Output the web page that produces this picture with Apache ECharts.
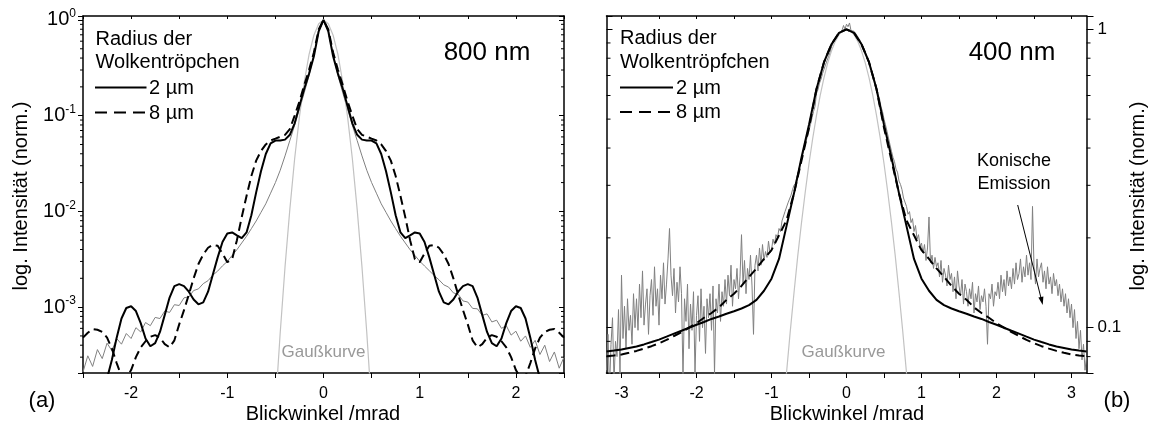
<!DOCTYPE html>
<html><head><meta charset="utf-8">
<script src="https://cdn.jsdelivr.net/npm/echarts@6/dist/echarts.min.js"></script>
<style>html,body{margin:0;padding:0;background:#fff}#c{width:1156px;height:430px}</style>
</head><body><div id="c"></div>
<script>
const FONT = '"Liberation Sans", Arial, Helvetica, sans-serif';

// ---------- panel (a): 800 nm ----------
const angleA = Array.from({length: 101}, (_, i) => +(-2.5 + i * 0.05).toFixed(2));
const measuredA = [0.00021,0.00031,0.00024,0.00036,0.00029,0.00042,0.00035,0.00047,0.00041,0.00053,0.00047,0.00061,0.00055,0.00069,0.00064,0.00078,0.00076,0.00091,0.00088,0.00106,0.00104,0.00125,0.00128,0.00149,0.00155,0.00176,
 0.00189,0.00216,0.00238,0.0027,0.003,0.00347,0.00398,0.00468,0.0055,0.0066,0.00794,0.00977,0.012,0.0155,0.02,0.0269,0.038,0.055,0.0794,0.117,0.174,0.263,0.437,0.794,
 1,
 0.794,0.437,0.263,0.174,0.117,0.0794,0.055,0.038,0.0269,0.02,0.0155,0.012,0.00977,0.00794,0.0066,0.0055,0.00468,0.00398,0.00347,0.00302,0.00269,0.0024,0.00214,0.00193,
 0.00171,0.00162,0.00141,0.00136,0.00116,0.00113,0.00097,0.00096,0.00082,0.00085,0.0007,0.00073,0.0006,0.00064,0.00051,0.00056,0.00044,0.0005,0.00038,0.00045,0.00032,0.0004,0.00027,0.00034,0.00023,0.0003];
const drop2umA = [0.00002,0.00003,0.00004,0.00006,0.0001,0.00018,0.00028,0.00048,0.00076,0.00098,0.00102,0.00091,0.00068,0.00047,0.00039,0.00042,0.00055,0.00083,0.00126,0.00166,0.00174,0.00166,0.00145,0.0012,0.00107,0.00112,0.00145,0.00219,0.00331,0.00479,0.00589,0.00603,0.00562,0.00525,0.00603,0.00912,0.0158,0.0263,0.0398,0.0513,0.055,0.055,0.0562,0.0631,0.0832,0.126,0.191,0.275,0.417,0.759,
 1,
 0.759,0.417,0.275,0.191,0.126,0.0832,0.0631,0.0562,0.055,0.055,0.0513,0.0398,0.0263,0.0158,0.00912,0.00603,0.00525,0.00562,0.00603,0.00589,0.00479,0.00331,0.00219,0.00145,0.00112,0.00107,0.0012,0.00145,0.00166,0.00174,0.00166,0.00126,0.00083,0.00055,0.00042,0.00039,0.00047,0.00068,0.00091,0.00102,0.00098,0.00076,0.00048,0.00028,0.00018,0.0001,0.00006,0.00004,0.00003,0.00002];
const drop8umA = [0.00048,0.00054,0.00059,0.00058,0.00055,0.00048,0.00037,0.00026,0.00019,0.00018,0.00022,0.0003,0.00038,0.00044,0.00049,0.00051,0.00048,0.00041,0.00038,0.00045,0.00066,0.00093,0.00135,0.002,0.00282,0.00355,0.00417,0.00447,0.00437,0.00363,0.00295,0.00316,0.00501,0.00871,0.0145,0.0234,0.0339,0.0427,0.0501,0.055,0.0575,0.0603,0.0631,0.0724,0.1,0.141,0.209,0.302,0.457,0.794,
 1,
 0.794,0.457,0.302,0.209,0.141,0.1,0.0724,0.0631,0.0603,0.0575,0.055,0.0501,0.0427,0.0339,0.0234,0.0145,0.00871,0.00501,0.00316,0.00295,0.00363,0.00437,0.00447,0.00417,0.00355,0.00282,0.002,0.00135,0.00093,0.00066,0.00045,0.00038,0.00041,0.00048,0.00051,0.00049,0.00044,0.00038,0.0003,0.00022,0.00018,0.00019,0.00026,0.00037,0.00048,0.00055,0.00058,0.00059,0.00054,0.00048];
const gaussAngleA = [-0.55,-0.5,-0.45,-0.4,-0.35,-0.3,-0.25,-0.2,-0.15,-0.1,-0.05,0,0.05,0.1,0.15,0.2,0.25,0.3,0.35,0.4,0.45,0.5,0.55];
const gaussA = [0.0000126,0.000091,0.00054,0.00263,0.0105,0.0355,0.0977,0.224,0.437,0.692,0.912,1,0.912,0.692,0.437,0.224,0.0977,0.0355,0.0105,0.00263,0.00054,0.000091,0.0000126];
const yMinorA = [3e-4,4e-4,5e-4,6e-4,7e-4,8e-4,9e-4,2e-3,3e-3,4e-3,5e-3,6e-3,7e-3,8e-3,9e-3,2e-2,3e-2,4e-2,5e-2,6e-2,7e-2,8e-2,9e-2,0.2,0.3,0.4,0.5,0.6,0.7,0.8,0.9];

// ---------- panel (b): 400 nm ----------
const angleB = Array.from({length: 65}, (_, i) => +(-3.2 + i * 0.1).toFixed(1));
const drop2umB = [0.0832,0.0838,0.0845,0.0855,0.0865,0.0879,0.0895,0.0912,0.0933,0.0955,0.0977,0.1,0.1023,0.1045,0.107,0.109,0.1114,0.1135,0.116,0.119,0.124,0.133,0.146,0.17,0.219,0.282,0.372,0.479,0.631,0.776,0.891,0.973,
 1,
 0.973,0.891,0.776,0.631,0.479,0.372,0.282,0.219,0.17,0.146,0.133,0.124,0.119,0.116,0.1135,0.1114,0.109,0.107,0.1045,0.1023,0.1,0.0977,0.0955,0.0933,0.0912,0.0895,0.0879,0.0865,0.0855,0.0845,0.0838,0.0832];
const drop8umB = [0.0803,0.0807,0.0813,0.0824,0.0836,0.0851,0.0867,0.0887,0.091,0.0938,0.0966,0.1,0.1035,0.108,0.112,0.117,0.124,0.13,0.138,0.148,0.158,0.17,0.182,0.204,0.229,0.282,0.363,0.468,0.631,0.776,0.891,0.973,
 1,
 0.973,0.891,0.776,0.631,0.468,0.363,0.282,0.229,0.204,0.182,0.17,0.158,0.148,0.138,0.13,0.124,0.117,0.112,0.108,0.1035,0.1,0.0966,0.0938,0.091,0.0887,0.0867,0.0851,0.0836,0.0824,0.0813,0.0807,0.0803];
const measuredAngleB = Array.from({length: 321}, (_, i) => +(-3.2 + i * 0.02).toFixed(2));
const measuredB = [
 0.072,0.095,0.062,0.088,0.108,0.066,0.09,0.08,0.115,0.07,
 0.15,0.092,0.118,0.085,0.125,0.098,0.11,0.088,0.13,0.1,
 0.125,0.098,0.14,0.108,0.155,0.102,0.12,0.135,0.095,0.128,
 0.145,0.11,0.16,0.118,0.135,0.102,0.15,0.125,0.165,0.12,
 0.14,0.17,0.215,0.15,0.128,0.158,0.112,0.142,0.122,0.16,
 0.13,0.068,0.125,0.105,0.14,0.085,0.12,0.098,0.132,0.07,
 0.11,0.128,0.09,0.135,0.1,0.118,0.082,0.125,0.108,0.13,
 0.098,0.138,0.07,0.125,0.112,0.14,0.105,0.132,0.118,0.145,
 0.12,0.15,0.128,0.162,0.118,0.145,0.135,0.158,0.125,0.148,
 0.205,0.14,0.168,0.13,0.158,0.145,0.175,0.138,0.095,0.162,
 0.175,0.155,0.185,0.162,0.19,0.168,0.18,0.172,0.195,0.178,
 0.182,0.198,0.19,0.205,0.2,0.215,0.21,0.228,0.225,0.245,
 0.248,0.262,0.258,0.278,0.29,0.3,0.305,0.322,0.335,0.352,
 0.37,0.385,0.402,0.42,0.44,0.458,0.48,0.505,0.53,0.552,
 0.61,0.628,0.66,0.68,0.71,0.735,0.76,0.785,0.81,0.835,
 0.875,0.895,0.915,0.935,0.95,0.965,0.98,0.99,1.03,1.0,
 1.04,
 1.02,1.05,0.99,1.0,0.985,0.97,0.955,0.935,0.92,0.895,
 0.875,0.85,0.825,0.8,0.775,0.75,0.72,0.695,0.665,0.635,
 0.605,0.585,0.55,0.53,0.5,0.478,0.455,0.432,0.41,0.39,
 0.372,0.36,0.34,0.332,0.31,0.302,0.29,0.272,0.268,0.255,
 0.24,0.245,0.225,0.232,0.21,0.22,0.198,0.205,0.188,0.192,
 0.178,0.19,0.168,0.185,0.235,0.165,0.175,0.158,0.172,0.16,
 0.165,0.148,0.168,0.142,0.158,0.15,0.138,0.162,0.145,0.152,
 0.132,0.148,0.125,0.155,0.138,0.128,0.145,0.12,0.14,0.132,
 0.118,0.135,0.125,0.142,0.112,0.13,0.122,0.138,0.115,0.128,
 0.122,0.135,0.118,0.088,0.13,0.125,0.14,0.118,0.132,0.128,
 0.142,0.125,0.15,0.132,0.145,0.128,0.155,0.138,0.148,0.135,
 0.158,0.14,0.165,0.145,0.152,0.17,0.142,0.16,0.148,0.175,
 0.15,0.165,0.145,0.255,0.16,0.14,0.17,0.148,0.158,0.165,
 0.142,0.155,0.135,0.16,0.14,0.148,0.13,0.152,0.138,0.145,
 0.128,0.14,0.122,0.135,0.118,0.13,0.112,0.125,0.108,0.12,
 0.1,0.115,0.092,0.105,0.085,0.098,0.078,0.088,0.072,0.08];
const gaussAngleB = [-0.9,-0.85,-0.8,-0.75,-0.7,-0.65,-0.6,-0.55,-0.5,-0.45,-0.4,-0.35,-0.3,-0.25,-0.2,-0.15,-0.1,-0.05,0,0.05,0.1,0.15,0.2,0.25,0.3,0.35,0.4,0.45,0.5,0.55,0.6,0.65,0.7,0.75,0.8,0.85,0.9];
const gaussB = [0.0348,0.0501,0.0705,0.0972,0.131,0.174,0.225,0.285,0.355,0.432,0.515,0.602,0.689,0.772,0.847,0.911,0.959,0.99,1,0.99,0.959,0.911,0.847,0.772,0.689,0.602,0.515,0.432,0.355,0.285,0.225,0.174,0.131,0.0972,0.0705,0.0501,0.0348];
const xTickValuesB = [-3,-2.5,-2,-1.5,-1,-0.5,0,0.5,1,1.5,2,2.5,3];
const xLabelValuesB = [-3,-2,-1,0,1,2,3];
const yMinorB = [0.08,0.09,0.2,0.3,0.4,0.5,0.6,0.7,0.8,0.9];

// ---------- layout ----------
const XA = [-2.5, 2.5], YA = [2.05e-4, 1.1];
const XB = [-3.2, 3.2], YB = [0.0705, 1.108];
const pairs = (xs, ys) => xs.map((x, i) => [x, ys[i]]);
const lineAx = {show: true, onZero: false, lineStyle: {color: '#000', width: 1.5}};

function minorTickSeries(xi, yi, ticks, xr, leftLen, rightLen) {
  return {
    type: 'custom', xAxisIndex: xi, yAxisIndex: yi, silent: true, clip: false, z: 10,
    data: ticks.map(v => [xr[0], v]),
    renderItem: (params, api) => {
      const v = api.value(1);
      const pl = api.coord([xr[0], v]);
      const pr = api.coord([xr[1], v]);
      const st = {stroke: '#000', lineWidth: 1};
      return {type: 'group', children: [
        {type: 'line', shape: {x1: pl[0] + leftLen, y1: pl[1], x2: pl[0], y2: pl[1]}, style: st},
        {type: 'line', shape: {x1: pr[0], y1: pr[1], x2: pr[0] + rightLen, y2: pr[1]}, style: st}
      ]};
    }
  };
}

function txt(x, y, text, size, opts) {
  opts = opts || {};
  return Object.assign({
    type: 'text', x: x, y: y, z: 20, silent: true,
    style: {text: text, font: size + 'px ' + FONT, fill: opts.fill || '#000',
      align: opts.align || 'center', verticalAlign: 'middle',
      textAlign: opts.align || 'center', textVerticalAlign: 'middle'}
  }, opts.rotation ? {rotation: opts.rotation} : {});
}

const chart = echarts.init(document.getElementById('c'));
chart.setOption({
  animation: false,
  backgroundColor: '#fff',
  grid: [
    {left: 83, top: 16, width: 481, height: 357},
    {left: 606.5, top: 16, width: 480, height: 357}
  ],
  xAxis: [
    {gridIndex: 0, type: 'value', position: 'bottom', min: XA[0], max: XA[1], interval: 0.5,
     axisLine: lineAx, splitLine: {show: false},
     axisTick: {inside: false, length: 5, lineStyle: {color: '#000', width: 1}},
     axisLabel: {margin: 13, fontSize: 16, color: '#000', fontFamily: FONT,
       formatter: v => Number.isInteger(v) ? String(v) : ''}},
    {gridIndex: 0, type: 'value', position: 'top', min: XA[0], max: XA[1], interval: 0.5,
     axisLine: lineAx, splitLine: {show: false}, axisLabel: {show: false},
     axisTick: {inside: true, length: 3, lineStyle: {color: '#000', width: 1}}},
    {gridIndex: 1, type: 'value', position: 'bottom', min: XB[0], max: XB[1],
     axisLine: lineAx, splitLine: {show: false},
     axisTick: {inside: false, length: 5, customValues: xTickValuesB, lineStyle: {color: '#000', width: 1}},
     axisLabel: {margin: 13, fontSize: 16, color: '#000', fontFamily: FONT, customValues: xLabelValuesB}},
    {gridIndex: 1, type: 'value', position: 'top', min: XB[0], max: XB[1],
     axisLine: lineAx, splitLine: {show: false}, axisLabel: {show: false},
     axisTick: {inside: true, length: 3, customValues: xTickValuesB, lineStyle: {color: '#000', width: 1}}}
  ],
  yAxis: [
    {gridIndex: 0, type: 'log', logBase: 10, position: 'left', min: YA[0], max: YA[1],
     axisLine: lineAx, splitLine: {show: false}, minorTick: {show: false},
     axisTick: {inside: false, length: 5, lineStyle: {color: '#000', width: 1}},
     axisLabel: {margin: 7, color: '#000', fontFamily: FONT,
       formatter: v => { const l = Math.log10(v); const e = Math.round(l); return Math.abs(l - e) < 1e-6 ? '{m|10}{e|' + e + '}' : ''; },
       rich: {m: {fontSize: 20, fontFamily: FONT, color: '#000'},
              e: {fontSize: 12, fontFamily: FONT, color: '#000', padding: [0, 0, 12, 0]}}}},
    {gridIndex: 0, type: 'log', logBase: 10, position: 'right', min: YA[0], max: YA[1],
     axisLine: lineAx, splitLine: {show: false}, axisLabel: {show: false},
     axisTick: {inside: true, length: 5, lineStyle: {color: '#000', width: 1}}},
    {gridIndex: 1, type: 'log', logBase: 10, position: 'right', min: YB[0], max: YB[1],
     axisLine: lineAx, splitLine: {show: false},
     axisTick: {inside: false, length: 7, lineStyle: {color: '#000', width: 1}},
     axisLabel: {margin: 11, fontSize: 17, color: '#000', fontFamily: FONT,
       formatter: v => Math.abs(v - 1) < 1e-6 ? '1' : (Math.abs(v - 0.1) < 1e-7 ? '0.1' : '')}},
    {gridIndex: 1, type: 'log', logBase: 10, position: 'left', min: YB[0], max: YB[1],
     axisLine: lineAx, splitLine: {show: false}, axisLabel: {show: false},
     axisTick: {inside: true, length: 6, lineStyle: {color: '#000', width: 1}}}
  ],
  series: [
    {name: 'Messung 800 nm', type: 'line', xAxisIndex: 0, yAxisIndex: 0, data: pairs(angleA, measuredA),
     showSymbol: false, symbol: 'none', lineStyle: {color: '#808080', width: 1}, z: 2},
    {name: 'Gaußkurve 800 nm', type: 'line', xAxisIndex: 0, yAxisIndex: 0, data: pairs(gaussAngleA, gaussA),
     showSymbol: false, symbol: 'none', lineStyle: {color: '#c2c2c2', width: 1.2}, z: 2},
    {name: '2 µm', type: 'line', xAxisIndex: 0, yAxisIndex: 0, data: pairs(angleA, drop2umA),
     showSymbol: false, symbol: 'none', lineStyle: {color: '#000', width: 2}, z: 4},
    {name: '8 µm', type: 'line', xAxisIndex: 0, yAxisIndex: 0, data: pairs(angleA, drop8umA),
     showSymbol: false, symbol: 'none', lineStyle: {color: '#000', width: 2, type: [9, 5]}, z: 4},

    {name: 'Messung 400 nm', type: 'line', xAxisIndex: 2, yAxisIndex: 2, data: pairs(measuredAngleB, measuredB),
     showSymbol: false, symbol: 'none', lineStyle: {color: '#808080', width: 1}, z: 2},
    {name: 'Gaußkurve 400 nm', type: 'line', xAxisIndex: 2, yAxisIndex: 2, data: pairs(gaussAngleB, gaussB),
     showSymbol: false, symbol: 'none', lineStyle: {color: '#c2c2c2', width: 1.2}, z: 2},
    {name: '2 µm ', type: 'line', xAxisIndex: 2, yAxisIndex: 2, data: pairs(angleB, drop2umB),
     showSymbol: false, symbol: 'none', lineStyle: {color: '#000', width: 2}, z: 4},
    {name: '8 µm ', type: 'line', xAxisIndex: 2, yAxisIndex: 2, data: pairs(angleB, drop8umB),
     showSymbol: false, symbol: 'none', lineStyle: {color: '#000', width: 2, type: [9, 5]}, z: 4},

    minorTickSeries(0, 0, yMinorA, XA, -3, -3),
    minorTickSeries(2, 2, yMinorB, XB, 4, 4)
  ],
  graphic: [
    txt(21, 196, 'log. Intensität (norm.)', 20, {rotation: Math.PI / 2}),
    txt(1138, 196, 'log. Intensität (norm.)', 20, {rotation: Math.PI / 2}),
    txt(323, 414, 'Blickwinkel /mrad', 20),
    txt(847, 414, 'Blickwinkel /mrad', 20),
    txt(42, 401, '(a)', 22),
    txt(1117, 401, '(b)', 22),
    txt(487, 53, '800 nm', 26),
    txt(1012, 53, '400 nm', 26),
    txt(95.5, 39.5, 'Radius der', 20, {align: 'left'}),
    txt(95.5, 62.5, 'Wolkentröpchen', 20, {align: 'left'}),
    {type: 'line', z: 20, shape: {x1: 95, y1: 87.5, x2: 146.5, y2: 87.5}, style: {stroke: '#000', lineWidth: 2}},
    txt(149, 88, '2 µm', 20, {align: 'left'}),
    {type: 'line', z: 20, shape: {x1: 95, y1: 112.5, x2: 146.5, y2: 112.5}, style: {stroke: '#000', lineWidth: 2, lineDash: [12, 7]}},
    txt(149, 113, '8 µm', 20, {align: 'left'}),
    txt(620, 38, 'Radius der', 20, {align: 'left'}),
    txt(620, 62, 'Wolkentröpfchen', 20, {align: 'left'}),
    {type: 'line', z: 20, shape: {x1: 620, y1: 87.5, x2: 673, y2: 87.5}, style: {stroke: '#000', lineWidth: 2}},
    txt(676, 88, '2 µm', 20, {align: 'left'}),
    {type: 'line', z: 20, shape: {x1: 620, y1: 112, x2: 673, y2: 112}, style: {stroke: '#000', lineWidth: 2, lineDash: [12, 7]}},
    txt(676, 112.5, '8 µm', 20, {align: 'left'}),
    txt(323.5, 352, 'Gaußkurve', 17, {fill: '#999'}),
    txt(843.5, 352, 'Gaußkurve', 17, {fill: '#999'}),
    txt(1014, 161, 'Konische', 18),
    txt(1014, 184, 'Emission', 18),
    {type: 'line', z: 20, shape: {x1: 1017.7, y1: 205, x2: 1041, y2: 298}, style: {stroke: '#000', lineWidth: 1}},
    {type: 'polygon', z: 20, shape: {points: [[1042.7, 305], [1038.4, 297.6], [1043.4, 296.4]]}, style: {fill: '#000'}}
  ]
});
</script>
</body></html>
